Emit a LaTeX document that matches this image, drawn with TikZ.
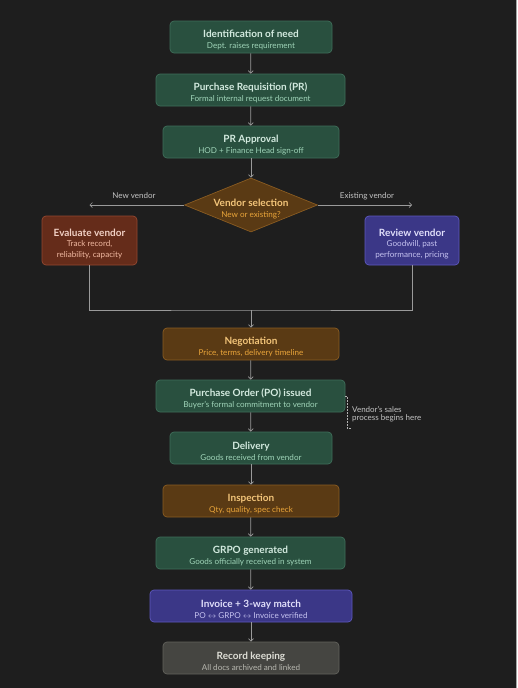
\documentclass[tikz,border=0pt]{standalone}
\usepackage{fontspec}
\setmainfont{Lato}
\usetikzlibrary{arrows.meta,shapes.geometric}
\definecolor{bg}{HTML}{1E1E1E}
\definecolor{gfill}{HTML}{29503F}\definecolor{gdraw}{HTML}{3F6E5A}
\definecolor{gt}{HTML}{D3EADF}\definecolor{gs}{HTML}{9FD4B8}
\definecolor{ofill}{HTML}{5A3A14}\definecolor{odraw}{HTML}{8A5C22}
\definecolor{ot}{HTML}{F3C57A}\definecolor{os}{HTML}{EAA53A}
\definecolor{rfill}{HTML}{652C1A}\definecolor{rdraw}{HTML}{944830}
\definecolor{rt}{HTML}{F1D0C4}\definecolor{rs}{HTML}{F0B8A0}
\definecolor{pfill}{HTML}{3B3787}\definecolor{pdraw}{HTML}{5D58BF}
\definecolor{ptt}{HTML}{E0DEFA}\definecolor{ps}{HTML}{C5C2F0}
\definecolor{kfill}{HTML}{454541}\definecolor{kdraw}{HTML}{62625C}
\definecolor{kt}{HTML}{DEDED6}\definecolor{ks}{HTML}{B8B8B0}
\definecolor{linec}{HTML}{9A9A9A}
\definecolor{lbl}{HTML}{C4C4C4}
\newcommand\ttl[2]{\rule{0pt}{14pt}\textcolor{#1}{\fontsize{10}{11}\selectfont\bfseries #2}}
\newcommand\sbt[2]{\textcolor{#1}{\fontsize{8.1}{9.5}\selectfont #2}}
\newcommand\tw[4]{\ttl{#1}{#2}\\[-1.3pt]\sbt{#3}{#4}}
\begin{document}
\begin{tikzpicture}[x=1pt,y=-1pt,
  box/.style={rounded corners=4pt, line width=0.7pt, align=center, inner sep=0pt, minimum height=32pt},
  gbox/.style={box, fill=gfill, draw=gdraw},
  obox/.style={box, fill=ofill, draw=odraw},
  rbox/.style={box, fill=rfill, draw=rdraw},
  pbox/.style={box, fill=pfill, draw=pdraw},
  kbox/.style={box, fill=kfill, draw=kdraw},
  arr/.style={draw=linec, line width=0.7pt, -{Straight Barb[length=2.5pt,width=5pt]}},
  ln/.style={draw=linec, line width=0.7pt},
  lab/.style={text=lbl, font=\fontsize{8}{9.5}\selectfont, inner sep=0pt}]
\fill[bg] (0,0) rectangle (517,688);
\fill[gray!70] (516,0) rectangle (517,688);
\useasboundingbox (0,0) rectangle (517,688);

\node[gbox, minimum width=162pt] (n1) at (251,37) {\tw{gt}{Identification of need}{gs}{Dept. raises requirement}};
\node[gbox, minimum width=189pt] (n2) at (250.5,90) {\tw{gt}{Purchase Requisition (PR)}{gs}{Formal internal request document}};
\node[gbox, minimum width=176pt] (n3) at (251,142) {\tw{gt}{PR Approval}{gs}{HOD + Finance Head sign-off}};
\node[diamond, aspect=2.46, minimum width=133pt, minimum height=54pt, inner sep=0pt, fill=ofill, draw=odraw, line width=0.7pt] (vs) at (251,205) {};
\node[align=center, inner sep=0pt] (vst) at (251,205.5) {\tw{ot}{Vendor selection}{os}{New or existing?}};
\node[rbox, minimum width=95pt, minimum height=49pt] (ev) at (89.5,240.5) {\ttl{rt}{Evaluate vendor}\\[-1.3pt]\sbt{rs}{Track record,}\\[-1.3pt]\sbt{rs}{reliability, capacity}};
\node[pbox, minimum width=94pt, minimum height=49pt] (rv) at (412,240.5) {\ttl{ptt}{Review vendor}\\[-1.3pt]\sbt{ps}{Goodwill, past}\\[-1.3pt]\sbt{ps}{performance, pricing}};
\node[obox, minimum width=176pt] (n7) at (251,344) {\tw{ot}{Negotiation}{os}{Price, terms, delivery timeline}};
\node[gbox, minimum width=189pt] (n8) at (250.5,396) {\tw{gt}{Purchase Order (PO) issued}{gs}{Buyer’s formal commitment to vendor}};
\node[gbox, minimum width=162pt] (n9) at (251,448) {\tw{gt}{Delivery}{gs}{Goods received from vendor}};
\node[obox, minimum width=176pt] (n10) at (251,501) {\tw{ot}{Inspection}{os}{Qty, quality, spec check}};
\node[gbox, minimum width=189pt] (n11) at (250.5,553) {\tw{gt}{GRPO generated}{gs}{Goods officially received in system}};
\node[pbox, minimum width=202pt] (n12) at (251,606) {\tw{ptt}{Invoice + 3-way match}{ps}{PO $\leftrightarrow$ GRPO $\leftrightarrow$ Invoice verified}};
\node[kbox, minimum width=176pt] (n13) at (251,658) {\tw{kt}{Record keeping}{ks}{All docs archived and linked}};

\node[lab] (lnew) at (134,196) {New vendor};
\node[lab] (lex) at (367,196) {Existing vendor};
\node[lab, align=left, anchor=north west] (note) at (352,406) {Vendor’s sales\\[-1pt]process begins here};

\draw[arr] (n1) -- (n2);
\draw[arr] (n2) -- (n3);
\draw[arr] (n3) -- (vs);
\draw[arr] (vs.west) -- (vs.west -| ev.north);
\draw[arr] (vs.east) -- (vs.east -| rv.north);
\coordinate (m) at (251,310);
\draw[ln] (ev.south) |- (m) -| (rv.south);
\draw[arr] (m) -- (n7);
\draw[arr] (n7) -- (n8);
\draw[arr] (n8) -- (n9);
\draw[arr] (n9) -- (n10);
\draw[arr] (n10) -- (n11);
\draw[arr] (n11) -- (n12);
\draw[arr] (n12) -- (n13);
\coordinate (d1) at (347,396);
\coordinate (d2) at (351,428);
\draw[draw=gray!60, line width=0.4pt, dash pattern=on 1.5pt off 1.5pt] (n8.east) -- (d1) |- (d2);
\end{tikzpicture}
\end{document}
